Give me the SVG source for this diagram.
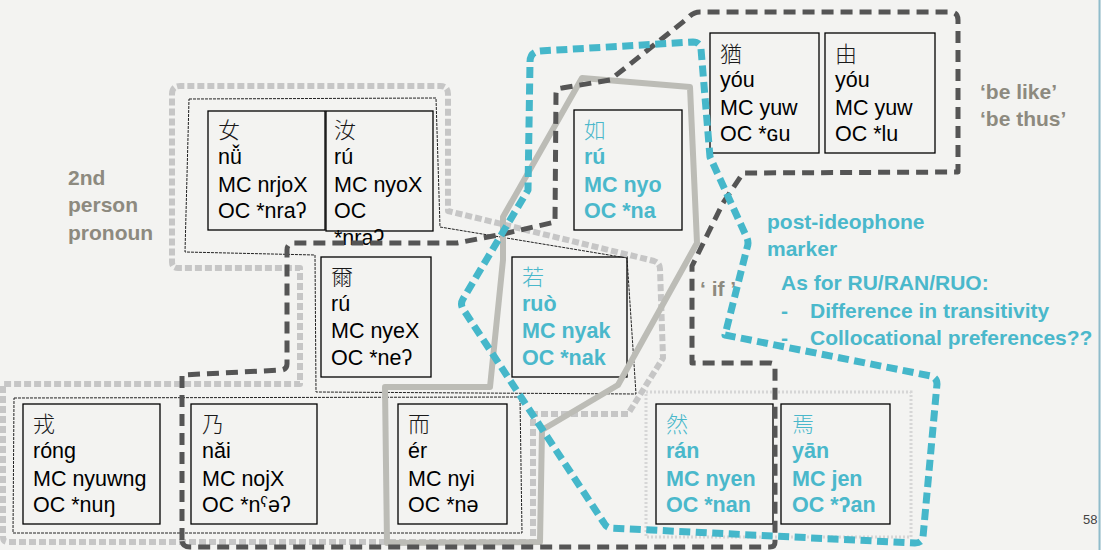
<svg xmlns="http://www.w3.org/2000/svg" width="1101" height="550" viewBox="0 0 1101 550">
<style>
.bx{fill:none;stroke:#000;stroke-width:1.3}
.t{font-family:"Liberation Sans",Arial,sans-serif;font-size:21.5px;fill:#000}
.tb{font-family:"Liberation Sans",Arial,sans-serif;font-size:21.5px;font-weight:bold;fill:#4ab8cb}
.cj{font-family:"Noto Sans CJK TC","Noto Sans CJK SC",sans-serif;font-size:22px;font-weight:300;fill:#1a1a1a}
.cjt{font-family:"Noto Sans CJK TC","Noto Sans CJK SC",sans-serif;font-size:22px;font-weight:300;fill:#4ab8cb}
.lg{font-family:"Liberation Sans",Arial,sans-serif;font-size:21px;font-weight:bold;fill:#8d8a7f}
.lt{font-family:"Liberation Sans",Arial,sans-serif;font-size:21px;font-weight:bold;fill:#4ab8cb}
.ldash{fill:none;stroke:#c6c6c6;stroke-width:6;stroke-dasharray:7 3;stroke-linejoin:round}
.ddash{fill:none;stroke:#555;stroke-width:5;stroke-dasharray:12 7;stroke-linejoin:round}
.tdash{fill:none;stroke:#45b7ca;stroke-width:7;stroke-dasharray:11 5.5;stroke-linejoin:round}
.gsol{fill:none;stroke:#bcbcb6;stroke-width:6;stroke-linejoin:round}
.thin{fill:none;stroke:#222;stroke-width:1;stroke-dasharray:3 1}
.dot{fill:none;stroke:#d6d6d6;stroke-width:3;stroke-dasharray:2 2}
</style>
<rect x="0" y="0" width="1101" height="550" fill="#f3f3f1"/>
<line x1="1099.5" y1="0" x2="1099.5" y2="550" stroke="#8fbccb" stroke-width="2"/>

<g id="labels">
<text class="lg" x="68" y="185">2nd</text>
<text class="lg" x="68" y="212">person</text>
<text class="lg" x="68" y="240">pronoun</text>
<text class="lg" x="980" y="99">‘be like’</text>
<text class="lg" x="980" y="126">‘be thus’</text>
<text class="lg" x="700" y="296">‘ if ’</text>
<text class="lt" x="767" y="229">post-ideophone</text>
<text class="lt" x="767" y="256">marker</text>
<text class="lt" x="781" y="290">As for RU/RAN/RUO:</text>
<text class="lt" x="781" y="318">-</text>
<text class="lt" x="810" y="318">Difference in transitivity</text>
<text class="lt" x="781" y="345">-</text>
<text class="lt" x="810" y="345">Collocational preferences??</text>
<text x="1083" y="524" font-family="Liberation Sans,Arial,sans-serif" font-size="13" fill="#444">58</text>
</g>

<g id="node-nv">
<rect class="bx" x="208" y="111" width="117" height="119"/>
<text class="cj" x="218" y="138">女</text>
<text class="t" x="218" y="164">nǚ</text>
<text class="t" x="218" y="192">MC nrjoX</text>
<text class="t" x="218" y="218">OC *nraʔ</text>
</g>
<g id="node-ru1">
<rect class="bx" x="326" y="111" width="107" height="120"/>
<text class="cj" x="334" y="138">汝</text>
<text class="t" x="334" y="164">rú</text>
<text class="t" x="334" y="192">MC nyoX</text>
<text class="t" x="334" y="218">OC</text>
<text class="t" x="334" y="245">*nraʔ</text>
</g>
<g id="node-ru2">
<rect class="bx" x="574" y="110" width="108" height="120"/>
<text class="cjt" x="584" y="138">如</text>
<text class="tb" x="584" y="164">rú</text>
<text class="tb" x="584" y="192">MC nyo</text>
<text class="tb" x="584" y="218">OC *na</text>
</g>
<g id="node-you1">
<rect class="bx" x="710" y="33" width="109" height="120"/>
<text class="cj" x="720" y="62">猶</text>
<text class="t" x="720" y="87">yóu</text>
<text class="t" x="720" y="115">MC yuw</text>
<text class="t" x="720" y="141">OC *ɢu</text>
</g>
<g id="node-you2">
<rect class="bx" x="825" y="33" width="110" height="120"/>
<text class="cj" x="835" y="62">由</text>
<text class="t" x="835" y="87">yóu</text>
<text class="t" x="835" y="115">MC yuw</text>
<text class="t" x="835" y="141">OC *lu</text>
</g>
<g id="node-er3">
<rect class="bx" x="321" y="257" width="110" height="120"/>
<text class="cj" x="331" y="285">爾</text>
<text class="t" x="331" y="311">rú</text>
<text class="t" x="331" y="338">MC nyeX</text>
<text class="t" x="331" y="365">OC *neʔ</text>
</g>
<g id="node-ruo">
<rect class="bx" x="512" y="257" width="115" height="120"/>
<text class="cjt" x="522" y="285">若</text>
<text class="tb" x="522" y="311">ruò</text>
<text class="tb" x="522" y="338">MC nyak</text>
<text class="tb" x="522" y="365">OC *nak</text>
</g>
<g id="node-rong">
<rect class="bx" x="23" y="404" width="137" height="120"/>
<text class="cj" x="33" y="432">戎</text>
<text class="t" x="33" y="458">róng</text>
<text class="t" x="33" y="486">MC nyuwng</text>
<text class="t" x="33" y="512">OC *nuŋ</text>
</g>
<g id="node-nai">
<rect class="bx" x="191" y="404" width="126" height="120"/>
<text class="cj" x="202" y="432">乃</text>
<text class="t" x="202" y="458">nǎi</text>
<text class="t" x="202" y="486">MC nojX</text>
<text class="t" x="202" y="512">OC *nˁəʔ</text>
</g>
<g id="node-er">
<rect class="bx" x="398" y="404" width="109" height="120"/>
<text class="cj" x="408" y="432">而</text>
<text class="t" x="408" y="458">ér</text>
<text class="t" x="408" y="486">MC nyi</text>
<text class="t" x="408" y="512">OC *nə</text>
</g>
<g id="node-ran">
<rect class="bx" x="656" y="404" width="117" height="120"/>
<text class="cjt" x="666" y="432">然</text>
<text class="tb" x="666" y="458">rán</text>
<text class="tb" x="666" y="486">MC nyen</text>
<text class="tb" x="666" y="512">OC *nan</text>
</g>
<g id="node-yan">
<rect class="bx" x="781" y="404" width="109" height="120"/>
<text class="cjt" x="792" y="432">焉</text>
<text class="tb" x="792" y="458">yān</text>
<text class="tb" x="792" y="486">MC jen</text>
<text class="tb" x="792" y="512">OC *ʔan</text>
</g>

<g id="connectors">
<path class="thin" d="M189,99 L436,98 L440,227 L627,258 L636,394 L316,392 L315,255 L185,252 Z"/>
<path class="thin" d="M14,398 L520,397 L522,533 L13,533 Z"/>
<path class="dot" d="M646,392 L911,392 L911,537 L646,537 Z"/>
<path class="ldash" d="M172,94 Q172,86 180,86 L440,86 Q448,86 448,94 L448,211 L654,261 Q660,263 660,269 L663,358 L628,414 L533,414 L533,542 L8,542 Q3,542 3,537 L3,384 L300,384 L300,268 L178,268 Q172,268 172,262 Z"/>
<path class="gsol" d="M582,78 L690,87 L697,243 L618,385 L542,430 L540,542 L387,543 L385,387 L490,387 L503,260 L503,217 Z"/>
<path class="ddash" d="M182,540 L182,375 L282,370 Q287,369 287,364 L287,250 Q287,243 294,243 L457,243 L503,234 L555,222 L556,94 Q556,88 562,88 L610,80 L688,18 Q693,12 700,12 L950,12 Q958,12 958,20 L958,172 L743,173 L723,203 L692,266 L692,363 L770,363 Q775,363 775,368 L775,542 Q775,547 770,547 L190,547 Q182,547 182,540 Z"/>
<path class="tdash" d="M530,62 Q530,52 540,51 L693,42 Q700,42 701,49 L710,157 L747,238 Q749,243 747,248 L725,335 L931,376 Q937,378 937,384 L923,537 Q922,543 915,543 L610,528 Q606,527 604,523 L463,309 Q460,304 463,299 L528,190 L530,62 Z"/>
</g>
</svg>
